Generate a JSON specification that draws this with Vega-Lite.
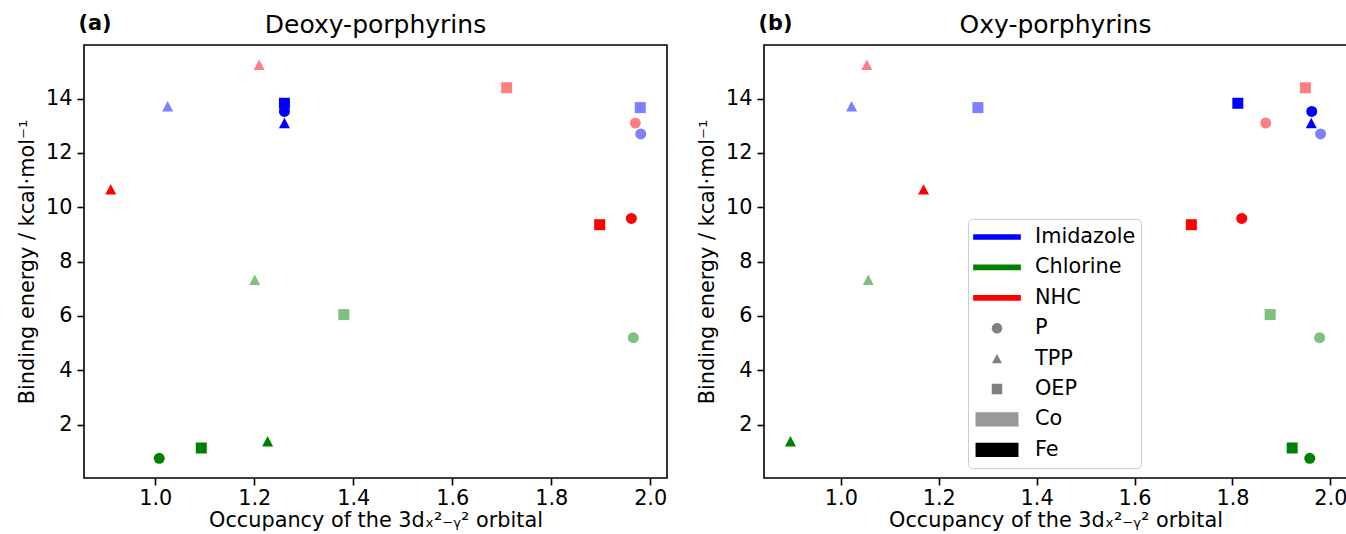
{
  "$schema": "https://vega.github.io/schema/vega-lite/v6.json",
  "background": "white",
  "padding": {"left": 15, "top": 11, "right": 0, "bottom": 0},
  "spacing": 97,
  "bounds": "flush",
  "config": {
    "font": "DejaVu Sans",
    "view": {"stroke": "black", "strokeWidth": 1.6},
    "axis": {
      "domain": false, "grid": false,
      "tickColor": "black", "tickWidth": 1.6, "tickSize": 7,
      "labelFont": "DejaVu Sans", "labelFontSize": 20.8, "labelColor": "black",
      "titleFont": "DejaVu Sans", "titleFontSize": 20.8, "titleFontWeight": "normal", "titleColor": "black"
    },
    "axisX": {"labelPadding": 3, "titlePadding": 3},
    "axisY": {"labelPadding": 5, "titlePadding": 8},
    "title": {"font": "DejaVu Sans", "fontSize": 25, "fontWeight": "normal", "color": "black", "offset": -26}
  },
  "datasets": {
    "points": [
      {"panel": "Deoxy", "ligand": "Imidazole", "porphyrin": "P", "metal": "Co", "occ": 1.981, "energy": 12.70},
      {"panel": "Deoxy", "ligand": "Imidazole", "porphyrin": "P", "metal": "Fe", "occ": 1.261, "energy": 13.53},
      {"panel": "Deoxy", "ligand": "Imidazole", "porphyrin": "TPP", "metal": "Co", "occ": 1.025, "energy": 13.72},
      {"panel": "Deoxy", "ligand": "Imidazole", "porphyrin": "TPP", "metal": "Fe", "occ": 1.261, "energy": 13.10},
      {"panel": "Deoxy", "ligand": "Imidazole", "porphyrin": "OEP", "metal": "Co", "occ": 1.980, "energy": 13.67},
      {"panel": "Deoxy", "ligand": "Imidazole", "porphyrin": "OEP", "metal": "Fe", "occ": 1.261, "energy": 13.83},
      {"panel": "Deoxy", "ligand": "Chlorine", "porphyrin": "P", "metal": "Co", "occ": 1.966, "energy": 5.20},
      {"panel": "Deoxy", "ligand": "Chlorine", "porphyrin": "P", "metal": "Fe", "occ": 1.008, "energy": 0.76},
      {"panel": "Deoxy", "ligand": "Chlorine", "porphyrin": "TPP", "metal": "Co", "occ": 1.201, "energy": 7.33},
      {"panel": "Deoxy", "ligand": "Chlorine", "porphyrin": "TPP", "metal": "Fe", "occ": 1.227, "energy": 1.39},
      {"panel": "Deoxy", "ligand": "Chlorine", "porphyrin": "OEP", "metal": "Co", "occ": 1.381, "energy": 6.05},
      {"panel": "Deoxy", "ligand": "Chlorine", "porphyrin": "OEP", "metal": "Fe", "occ": 1.093, "energy": 1.14},
      {"panel": "Deoxy", "ligand": "NHC", "porphyrin": "P", "metal": "Co", "occ": 1.970, "energy": 13.10},
      {"panel": "Deoxy", "ligand": "NHC", "porphyrin": "P", "metal": "Fe", "occ": 1.962, "energy": 9.59},
      {"panel": "Deoxy", "ligand": "NHC", "porphyrin": "TPP", "metal": "Co", "occ": 1.210, "energy": 15.25},
      {"panel": "Deoxy", "ligand": "NHC", "porphyrin": "TPP", "metal": "Fe", "occ": 0.910, "energy": 10.66},
      {"panel": "Deoxy", "ligand": "NHC", "porphyrin": "OEP", "metal": "Co", "occ": 1.710, "energy": 14.40},
      {"panel": "Deoxy", "ligand": "NHC", "porphyrin": "OEP", "metal": "Fe", "occ": 1.898, "energy": 9.36},
      {"panel": "Oxy", "ligand": "Imidazole", "porphyrin": "P", "metal": "Co", "occ": 1.980, "energy": 12.70},
      {"panel": "Oxy", "ligand": "Imidazole", "porphyrin": "P", "metal": "Fe", "occ": 1.962, "energy": 13.53},
      {"panel": "Oxy", "ligand": "Imidazole", "porphyrin": "TPP", "metal": "Co", "occ": 1.022, "energy": 13.72},
      {"panel": "Oxy", "ligand": "Imidazole", "porphyrin": "TPP", "metal": "Fe", "occ": 1.961, "energy": 13.10},
      {"panel": "Oxy", "ligand": "Imidazole", "porphyrin": "OEP", "metal": "Co", "occ": 1.280, "energy": 13.67},
      {"panel": "Oxy", "ligand": "Imidazole", "porphyrin": "OEP", "metal": "Fe", "occ": 1.811, "energy": 13.83},
      {"panel": "Oxy", "ligand": "Chlorine", "porphyrin": "P", "metal": "Co", "occ": 1.978, "energy": 5.20},
      {"panel": "Oxy", "ligand": "Chlorine", "porphyrin": "P", "metal": "Fe", "occ": 1.958, "energy": 0.76},
      {"panel": "Oxy", "ligand": "Chlorine", "porphyrin": "TPP", "metal": "Co", "occ": 1.056, "energy": 7.33},
      {"panel": "Oxy", "ligand": "Chlorine", "porphyrin": "TPP", "metal": "Fe", "occ": 0.897, "energy": 1.39},
      {"panel": "Oxy", "ligand": "Chlorine", "porphyrin": "OEP", "metal": "Co", "occ": 1.877, "energy": 6.05},
      {"panel": "Oxy", "ligand": "Chlorine", "porphyrin": "OEP", "metal": "Fe", "occ": 1.922, "energy": 1.14},
      {"panel": "Oxy", "ligand": "NHC", "porphyrin": "P", "metal": "Co", "occ": 1.868, "energy": 13.10},
      {"panel": "Oxy", "ligand": "NHC", "porphyrin": "P", "metal": "Fe", "occ": 1.819, "energy": 9.59},
      {"panel": "Oxy", "ligand": "NHC", "porphyrin": "TPP", "metal": "Co", "occ": 1.053, "energy": 15.25},
      {"panel": "Oxy", "ligand": "NHC", "porphyrin": "TPP", "metal": "Fe", "occ": 1.169, "energy": 10.66},
      {"panel": "Oxy", "ligand": "NHC", "porphyrin": "OEP", "metal": "Co", "occ": 1.949, "energy": 14.40},
      {"panel": "Oxy", "ligand": "NHC", "porphyrin": "OEP", "metal": "Fe", "occ": 1.716, "energy": 9.36}
    ],
    "legendkeys": [
      {"key": "Imidazole"}, {"key": "Chlorine"}, {"key": "NHC"},
      {"key": "P"}, {"key": "TPP"}, {"key": "OEP"},
      {"key": "Co"}, {"key": "Fe"}
    ]
  },
  "hconcat": [
    {
      "width": 583,
      "height": 433,
      "title": {"text": "Deoxy-porphyrins", "anchor": "middle"},
      "layer": [
        {
          "data": {"name": "points"},
          "transform": [{"filter": "datum.panel === 'Deoxy'"}],
          "mark": {"type": "point", "filled": true, "strokeWidth": 0},
          "encoding": {
            "x": {"field": "occ", "type": "quantitative", "scale": {"domain": [0.856, 2.034], "nice": false, "zero": false},
                  "axis": {"values": [1.0, 1.2, 1.4, 1.6, 1.8, 2.0], "format": ".1f", "title": "Occupancy of the 3dₓ²₋ᵧ² orbital"}},
            "y": {"field": "energy", "type": "quantitative", "scale": {"domain": [0.035, 15.975], "nice": false, "zero": false},
                  "axis": {"values": [2, 4, 6, 8, 10, 12, 14], "format": "d", "title": "Binding energy / kcal·mol⁻¹"}},
            "color": {"field": "ligand", "type": "nominal", "scale": {"domain": ["Imidazole", "Chlorine", "NHC"], "range": ["#0000ff", "#008000", "#ff0000"]}, "legend": null},
            "shape": {"field": "porphyrin", "type": "nominal", "scale": {"domain": ["P", "TPP", "OEP"], "range": ["circle", "M0,-0.95L1,0.95L-1,0.95Z", "square"]}, "legend": null},
            "opacity": {"field": "metal", "type": "nominal", "scale": {"domain": ["Co", "Fe"], "range": [0.5, 1]}, "legend": null},
            "size": {"value": 121}
          }
        },
        {
          "data": {"values": [{"label": "(a)"}]},
          "mark": {"type": "point"},
          "encoding": {
            "x": {"field": "occ", "type": "quantitative", "scale": {"domain": [0.856, 2.034], "nice": false, "zero": false},
                  "axis": {"orient": "top", "title": "(a)", "labels": false, "ticks": false, "domain": false,
                           "titleFontWeight": "bold", "titleAnchor": "start", "titleAlign": "left", "titleBaseline": "alphabetic", "titleX": -6, "titleY": -16}},
            "y": {"field": "energy", "type": "quantitative", "scale": {"domain": [0.035, 15.975], "nice": false, "zero": false}}
          }
        }
      ],
      "resolve": {"axis": {"x": "independent"}}
    },
    {
      "width": 583,
      "height": 433,
      "title": {"text": "Oxy-porphyrins", "anchor": "middle"},
      "layer": [
        {
          "data": {"name": "points"},
          "transform": [{"filter": "datum.panel === 'Oxy'"}],
          "mark": {"type": "point", "filled": true, "strokeWidth": 0},
          "encoding": {
            "x": {"field": "occ", "type": "quantitative", "scale": {"domain": [0.843, 2.034], "nice": false, "zero": false},
                  "axis": {"values": [1.0, 1.2, 1.4, 1.6, 1.8, 2.0], "format": ".1f", "title": "Occupancy of the 3dₓ²₋ᵧ² orbital"}},
            "y": {"field": "energy", "type": "quantitative", "scale": {"domain": [0.035, 15.975], "nice": false, "zero": false},
                  "axis": {"values": [2, 4, 6, 8, 10, 12, 14], "format": "d", "title": "Binding energy / kcal·mol⁻¹"}},
            "color": {"field": "ligand", "type": "nominal", "scale": {"domain": ["Imidazole", "Chlorine", "NHC"], "range": ["#0000ff", "#008000", "#ff0000"]}, "legend": null},
            "shape": {"field": "porphyrin", "type": "nominal", "scale": {"domain": ["P", "TPP", "OEP"], "range": ["circle", "M0,-0.95L1,0.95L-1,0.95Z", "square"]}, "legend": null},
            "opacity": {"field": "metal", "type": "nominal", "scale": {"domain": ["Co", "Fe"], "range": [0.5, 1]}, "legend": null},
            "size": {"value": 121}
          }
        },
        {
          "data": {"name": "legendkeys"},
          "mark": {"type": "point", "filled": true, "opacity": 1},
          "encoding": {
            "x": {"field": "occ", "type": "quantitative", "scale": {"domain": [0.843, 2.034], "nice": false, "zero": false},
                  "axis": {"orient": "top", "title": "(b)", "labels": false, "ticks": false, "domain": false,
                           "titleFontWeight": "bold", "titleAnchor": "start", "titleAlign": "left", "titleBaseline": "alphabetic", "titleX": -6, "titleY": -16}},
            "y": {"field": "energy", "type": "quantitative", "scale": {"domain": [0.035, 15.975], "nice": false, "zero": false}},
            "color": {"field": "key", "type": "nominal",
                      "scale": {"domain": ["Imidazole", "Chlorine", "NHC", "P", "TPP", "OEP", "Co", "Fe"],
                                "range": ["#0000ff", "#008000", "#ff0000", "#808080", "#808080", "#808080", "#999999", "#000000"]},
                      "legend": {"title": null, "orient": "none", "legendX": 204, "legendY": 174,
                                 "symbolSize": 2275, "symbolStrokeWidth": 0, "symbolOpacity": 1,
                                 "labelFont": "DejaVu Sans", "labelFontSize": 20.8, "labelColor": "black", "labelOffset": 14, "labelLimit": 300,
                                 "clipHeight": 26, "rowPadding": 4.4, "padding": 5,
                                 "strokeColor": "#cccccc", "fillColor": "rgba(255,255,255,0.8)", "cornerRadius": 4}},
            "shape": {"field": "key", "type": "nominal",
                      "scale": {"domain": ["Imidazole", "Chlorine", "NHC", "P", "TPP", "OEP", "Co", "Fe"],
                                "range": ["M-1,-0.12H1V0.12H-1Z", "M-1,-0.12H1V0.12H-1Z", "M-1,-0.12H1V0.12H-1Z",
                                          "M-0.22,0A0.22,0.22,0,1,0,0.22,0A0.22,0.22,0,1,0,-0.22,0Z",
                                          "M0,-0.19L0.21,0.19L-0.21,0.19Z",
                                          "M-0.22,-0.22H0.22V0.22H-0.22Z",
                                          "M-0.9,-0.3H0.9V0.3H-0.9Z", "M-0.9,-0.3H0.9V0.3H-0.9Z"]},
                      "legend": {"title": null, "orient": "none", "legendX": 204, "legendY": 174,
                                 "symbolSize": 2275, "symbolStrokeWidth": 0, "symbolOpacity": 1,
                                 "labelFont": "DejaVu Sans", "labelFontSize": 20.8, "labelColor": "black", "labelOffset": 14, "labelLimit": 300,
                                 "clipHeight": 26, "rowPadding": 4.4, "padding": 5,
                                 "strokeColor": "#cccccc", "fillColor": "rgba(255,255,255,0.8)", "cornerRadius": 4}}
          }
        }
      ],
      "resolve": {"axis": {"x": "independent"}, "scale": {"color": "independent", "shape": "independent"}}
    }
  ]
}
